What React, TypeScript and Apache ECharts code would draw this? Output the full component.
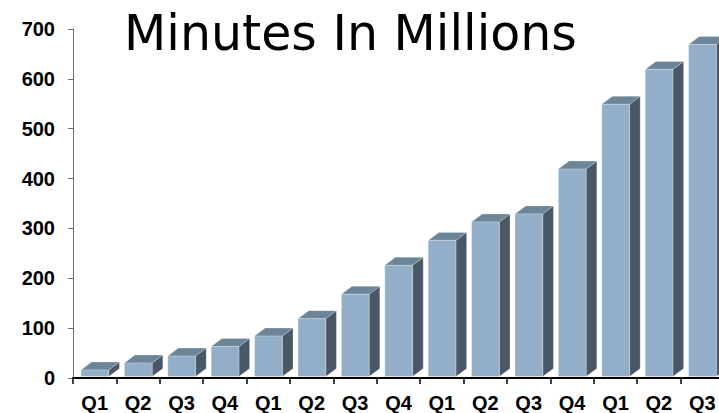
import React, { useEffect, useRef } from "react";
import * as echarts from "echarts";

const categories = ["Q1", "Q2", "Q3", "Q4", "Q1", "Q2", "Q3", "Q4", "Q1", "Q2", "Q3", "Q4", "Q1", "Q2", "Q3"];
const minutes = [16, 30, 44, 63, 84, 119, 168, 226, 276, 313, 329, 419, 549, 619, 669];
const yTicks = [0, 100, 200, 300, 400, 500, 600, 700];
const titleText = "Minutes In Millions";

export default function App() {
  const ref = useRef<HTMLDivElement>(null);
  useEffect(() => {
    if (!ref.current) return;
    const chart = echarts.init(ref.current, null, { renderer: "svg" });
    const FRONT = "#93aec8";
    const TOP = "#6d8599";
    const SIDE = "#4a5767";
    chart.setOption({
      animation: false,
      backgroundColor: "#ffffff",
      title: {
        text: titleText,
        left: 124,
        top: 9,
        padding: 0,
        textStyle: { fontFamily: "DejaVu Sans", fontSize: 49, fontWeight: "normal", color: "#000" },
      },
      grid: { left: 73, top: 29, width: 651, height: 349 },
      xAxis: {
        type: "category",
        data: categories,
        boundaryGap: true,
        axisLine: { show: true, lineStyle: { color: "#000", width: 2 } },
        axisTick: { show: true, length: 6, lineStyle: { color: "#000", width: 1.5 } },
        axisLabel: { interval: 0, margin: 15, fontFamily: "Liberation Sans", fontWeight: "bold", fontSize: 20, color: "#000" },
        splitLine: { show: false },
      },
      yAxis: {
        type: "value",
        min: yTicks[0],
        max: yTicks[yTicks.length - 1],
        interval: 100,
        axisLine: { show: true, lineStyle: { color: "#6e6e6e", width: 1 } },
        axisTick: { show: true, length: 5, lineStyle: { color: "#6e6e6e" } },
        axisLabel: { margin: 18, fontFamily: "Liberation Sans", fontWeight: "bold", fontSize: 20, color: "#000" },
        splitLine: { show: false },
      },
      series: [
        {
          type: "custom",
          data: minutes.map((v, i) => [i, v]),
          encode: { x: 0, y: 1 },
          renderItem: (params: any, api: any) => {
            const idx = api.value(0);
            const val = api.value(1);
            const top = api.coord([idx, val]);
            const base = api.coord([idx, 0]);
            const band = api.size([1, 0])[0];
            const x0 = top[0] - band / 2 + band * 0.184;
            const w = band * 0.64;
            const dx = band * 0.245;
            const dy = 8;
            const yTop = top[1];
            const yBase = base[1] - 1.5;
            return {
              type: "group",
              children: [
                {
                  type: "polygon",
                  shape: { points: [[x0 + w, yTop], [x0 + w + dx, yTop - dy], [x0 + w + dx, yBase - dy], [x0 + w, yBase]] },
                  style: { fill: SIDE, stroke: "rgba(255,255,255,0.35)", lineWidth: 0.6 },
                },
                {
                  type: "polygon",
                  shape: { points: [[x0, yTop], [x0 + dx, yTop - dy], [x0 + w + dx, yTop - dy], [x0 + w, yTop]] },
                  style: { fill: TOP, stroke: "rgba(255,255,255,0.35)", lineWidth: 0.6 },
                },
                {
                  type: "rect",
                  shape: { x: x0, y: yTop, width: w, height: yBase - yTop },
                  style: { fill: FRONT, stroke: "rgba(255,255,255,0.45)", lineWidth: 0.6 },
                },
              ],
            };
          },
        },
      ],
    });
    return () => chart.dispose();
  }, []);
  return (
    <div style={{ position: "fixed", left: 0, top: 0, width: 719, height: 413, overflow: "hidden", background: "#fff" }}>
      <div ref={ref} style={{ width: 760, height: 413 }} />
    </div>
  );
}
